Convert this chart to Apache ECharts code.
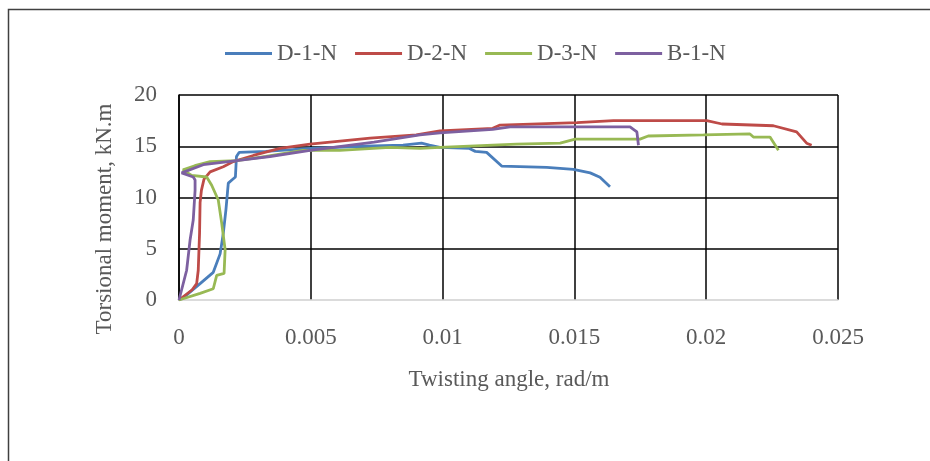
<!DOCTYPE html>
<html>
<head>
<meta charset="utf-8">
<script src="https://cdn.jsdelivr.net/npm/echarts@6/dist/echarts.min.js"></script>
<style>html,body{margin:0;padding:0;background:#fff}#c{width:930px;height:461px}</style>
</head>
<body>
<div id="c"></div>
<script>
var seriesNames = ['D-1-N', 'D-2-N', 'D-3-N', 'B-1-N'];
var xTicks = [0, 0.005, 0.01, 0.015, 0.02, 0.025];
var yTicks = [0, 5, 10, 15, 20];
var xTitle = 'Twisting angle, rad/m';
var yTitle = 'Torsional moment, kN.m';

var d1N = [[0,0],[0.0002,0.3],[0.0008,1.6],[0.0013,2.7],[0.00156,4.5],[0.00168,6.5],[0.00178,8.8],[0.00187,11.4],[0.00205,11.8],[0.00214,12.0],[0.00218,14.0],[0.00228,14.4],[0.0033,14.5],[0.005,14.8],[0.007,15.0],[0.0085,15.1],[0.0092,15.3],[0.0095,15.1],[0.0099,14.9],[0.011,14.8],[0.01124,14.5],[0.01167,14.4],[0.01224,13.07],[0.01395,12.94],[0.01496,12.75],[0.0156,12.4],[0.01597,11.97],[0.01635,11.05]];
var d2N = [[0,0],[0.0005,1.0],[0.00067,1.6],[0.00073,2.9],[0.00078,6.5],[0.0008,9.5],[0.00085,10.7],[0.00095,11.8],[0.00118,12.5],[0.00168,13.0],[0.00206,13.5],[0.00282,14.1],[0.00383,14.8],[0.00497,15.2],[0.00725,15.8],[0.0090,16.1],[0.0099,16.5],[0.0119,16.75],[0.01218,17.07],[0.0151,17.3],[0.01648,17.5],[0.02002,17.5],[0.0206,17.17],[0.02255,17.0],[0.02343,16.4],[0.02381,15.3],[0.024,15.1]];
var d3N = [[0,0],[0.0008,0.65],[0.0013,1.1],[0.00143,2.4],[0.00171,2.6],[0.00175,4.9],[0.00162,7.5],[0.00149,9.76],[0.00124,11.2],[0.00105,12.0],[0.00048,12.15],[0.00015,12.7],[0.0006,13.1],[0.00118,13.5],[0.00219,13.6],[0.0033,14.0],[0.0047,14.6],[0.0061,14.6],[0.008,14.9],[0.00914,14.8],[0.0099,14.9],[0.0128,15.2],[0.01446,15.3],[0.01503,15.7],[0.01749,15.7],[0.0178,16.0],[0.0199,16.1],[0.02166,16.2],[0.02179,15.9],[0.02242,15.9],[0.02274,14.6]];
var b1N = [[0,0],[0.00029,2.9],[0.00042,5.85],[0.00054,7.8],[0.00061,10.7],[0.00061,11.7],[0.00054,12.0],[0.0001,12.4],[0.00092,13.2],[0.00219,13.6],[0.00345,14.0],[0.00497,14.6],[0.0074,15.4],[0.00914,16.1],[0.0099,16.3],[0.0119,16.65],[0.01256,16.9],[0.01711,16.9],[0.01737,16.4],[0.01743,15.1]];

var colors = ['#4A7EBB', '#BE4B48', '#98B954', '#7D60A0'];
var allData = [d1N, d2N, d3N, b1N];
var font = 'Liberation Serif';
var txt = '#595959';
var fs = 23;

var chart = echarts.init(document.getElementById('c'), null, {renderer: 'canvas'});
chart.setOption({
  animation: false,
  backgroundColor: '#fff',
  color: colors,
  graphic: [{
    type: 'rect', left: 6, top: 7, z: -10,
    shape: {width: 1000, height: 1000},
    style: {fill: 'none', stroke: '#404040', lineWidth: 1.5}
  }, {
    type: 'text', x: 509, y: 380,
    style: {text: xTitle, fontFamily: font, fontSize: fs, fill: txt, align: 'center', verticalAlign: 'middle'}
  }, {
    type: 'text', x: 105, y: 219, rotation: Math.PI / 2,
    style: {text: yTitle, fontFamily: font, fontSize: fs, fill: txt, align: 'center', verticalAlign: 'middle'}
  }],
  legend: {
    left: 220, top: 37,
    itemWidth: 47, itemHeight: 3, itemGap: 18,
    icon: 'rect',
    textStyle: {fontFamily: font, fontSize: fs, color: txt},
    data: seriesNames
  },
  grid: {left: 179, right: 92, top: 95, bottom: 161, containLabel: false},
  xAxis: {
    type: 'value',
    min: xTicks[0], max: xTicks[xTicks.length - 1], interval: xTicks[1] - xTicks[0],
    axisLine: {show: true, onZero: false, lineStyle: {color: '#d9d9d9', width: 1.5}},
    axisTick: {show: false},
    axisLabel: {fontFamily: font, fontSize: fs, color: txt, margin: 26,
      formatter: function (v) { return String(v); }},
    splitLine: {show: true, lineStyle: {color: '#000', width: 1.5}}
  },
  yAxis: {
    type: 'value',
    min: yTicks[0], max: yTicks[yTicks.length - 1], interval: yTicks[1] - yTicks[0],
    axisLine: {show: true, lineStyle: {color: '#000', width: 1.5}},
    axisTick: {show: false},
    axisLabel: {fontFamily: font, fontSize: fs, color: txt, margin: 22},
    splitLine: {show: true, lineStyle: {color: ['#d9d9d9', '#000', '#000', '#000', '#000'], width: 1.5}}
  },
  series: seriesNames.map(function (n, i) {
    return {
      name: n, type: 'line', data: allData[i],
      showSymbol: false, symbol: 'none',
      lineStyle: {width: 2.8, color: colors[i]},
      itemStyle: {color: colors[i]},
      z: 2 + i
    };
  })
});
</script>
</body>
</html>
